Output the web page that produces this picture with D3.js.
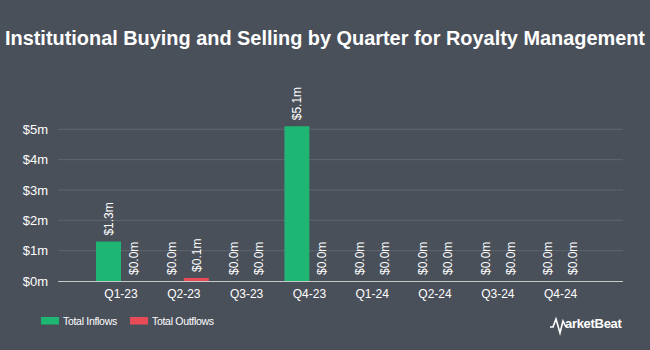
<!DOCTYPE html>
<html><head><meta charset="utf-8">
<script src="https://cdn.jsdelivr.net/npm/d3@7"></script>
<style>body{margin:0;background:#4a505a;}svg{display:block;}</style>
</head><body>
<script>
const categories = ["Q1-23","Q2-23","Q3-23","Q4-23","Q1-24","Q2-24","Q3-24","Q4-24"];
const inflows = [1.3, 0.0, 0.0, 5.1, 0.0, 0.0, 0.0, 0.0];
const outflows = [0.0, 0.1, 0.0, 0.0, 0.0, 0.0, 0.0, 0.0];
const yTicks = [0, 1, 2, 3, 4, 5];
const seriesNames = ["Total Inflows", "Total Outflows"];
const colors = ["#1db673", "#e84b55"];

const W = 650, H = 350;
const svg = d3.select("body").append("svg").attr("width", W).attr("height", H);
svg.append("rect").attr("width", W).attr("height", H).attr("fill", "#4a505a");

const font = "'Liberation Sans', Arial, sans-serif";
svg.append("text").attr("x", 325).attr("y", 45).attr("text-anchor", "middle")
  .attr("fill", "#ffffff").attr("font-family", font).attr("font-weight", "bold")
  .attr("font-size", 20).attr("textLength", 640).attr("lengthAdjust", "spacingAndGlyphs")
  .text("Institutional Buying and Selling by Quarter for Royalty Management");

const plotL = 58, plotR = 623, baseY = 281;
const x = d3.scaleBand().domain(categories).range([89.6, 592]);
const y = d3.scaleLinear().domain([0, 5]).range([baseY, 129.3]);

// gridlines
svg.append("g").selectAll("line").data(yTicks.filter(d => d > 0)).join("line")
  .attr("x1", plotL).attr("x2", plotR).attr("y1", d => y(d)).attr("y2", d => y(d))
  .attr("stroke", "#5f656f").attr("stroke-width", 1);

// y axis labels
const yAxis = d3.axisLeft(y).tickValues(yTicks).tickSize(0).tickPadding(0).tickFormat(d => "$" + d + "m");
const ya = svg.append("g").attr("transform", `translate(48,0)`).call(yAxis);
ya.select(".domain").remove();
ya.selectAll("text").attr("fill", "#ffffff").attr("font-family", font).attr("font-size", 13);

// x axis
const xAxis = d3.axisBottom(x).tickSize(0).tickPadding(0);
const xa = svg.append("g").attr("transform", `translate(0,${baseY + 8})`).call(xAxis);
xa.select(".domain").remove();
xa.selectAll("text").attr("fill", "#ffffff").attr("font-family", font).attr("font-size", 12).attr("dy", "0.71em");

const barW = 25;
const data = categories.map((c, i) => ({c, vals: [inflows[i], outflows[i]]}));
const g = svg.append("g");
data.forEach(d => {
  const cx = x(d.c) + x.bandwidth() / 2;
  d.vals.forEach((v, j) => {
    const bx = cx - barW + j * barW;
    g.append("rect").attr("x", bx).attr("width", barW)
      .attr("y", y(v)).attr("height", baseY - y(v)).attr("fill", colors[j]);
    const lx = bx + barW / 2, ly = y(v) - 6;
    g.append("text").attr("transform", `translate(${lx},${ly}) rotate(-90)`)
      .attr("text-anchor", "start").attr("dy", "0.35em")
      .attr("fill", "#ffffff").attr("font-family", font).attr("font-size", 12)
      .text("$" + v.toFixed(1) + "m");
  });
});

// baseline
svg.append("line").attr("x1", plotL).attr("x2", plotR).attr("y1", baseY + 0.5).attr("y2", baseY + 0.5)
  .attr("stroke", "#c8c8c8").attr("stroke-width", 1);

// legend
const legX = [41, 130];
seriesNames.forEach((n, i) => {
  svg.append("rect").attr("x", legX[i]).attr("y", 317).attr("width", 18).attr("height", 7.5).attr("fill", colors[i]);
  svg.append("text").attr("x", legX[i] + 22).attr("y", 325).attr("fill", "#ffffff")
    .attr("font-family", font).attr("font-size", 10.5).attr("letter-spacing", -0.3).text(n);
});

// logo
const lg = svg.append("g");
lg.append("path").attr("d", "M550,327 L553,327 L556,319 L560,333 L563,321 L566,327")
  .attr("fill", "none").attr("stroke", "#ffffff").attr("stroke-width", 1.6);
lg.append("text").attr("x", 565).attr("y", 328).attr("fill", "#ffffff")
  .attr("font-family", font).attr("font-weight", "bold").attr("font-size", 13).attr("letter-spacing", -0.3)
  .text("arketBeat");
</script>
</body></html>
